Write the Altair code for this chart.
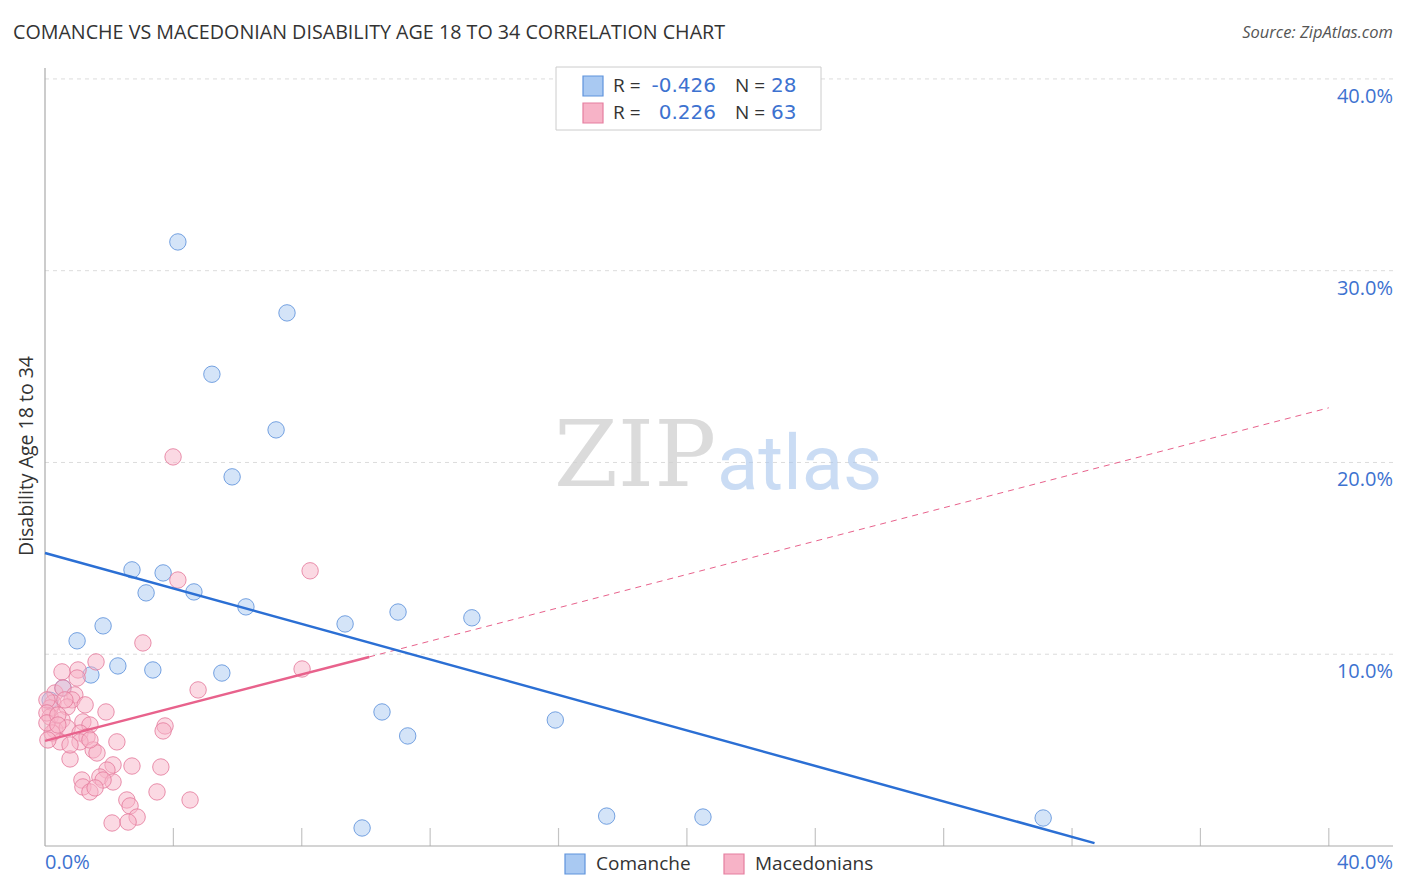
import altair as alt
import pandas as pd

# ---------------- data ----------------
comanche_x = [4.14, 7.54, 5.20, 7.20, 5.83, 2.71, 3.68, 3.15, 4.64, 6.26, 9.35, 11.0, 13.3,
              1.81, 1.00, 2.27, 3.36, 5.51, 1.43, 0.56, 10.5, 11.3, 15.9, 9.88, 17.5, 20.5,
              31.1, 0.16]
comanche_y = [31.5, 27.8, 24.6, 21.7, 19.25, 14.4, 14.24, 13.2, 13.25, 12.47, 11.58, 12.2, 11.9,
              11.48, 10.7, 9.39, 9.18, 9.02, 8.92, 8.24, 6.99, 5.74, 6.57, 0.94, 1.56, 1.51,
              1.46, 7.6]

maced_x = [8.26, 4.14, 3.99, 3.05, 0.53, 1.03, 1.59, 1.00, 8.01, 4.77, 0.31, 0.56, 0.93, 0.84,
           0.25, 0.69, 0.16, 1.90, 0.16, 0.53, 1.18, 1.40, 3.74, 3.68, 0.31, 0.69, 1.09, 1.31,
           0.47, 1.09, 2.24, 0.22, 0.78, 1.50, 1.62, 2.71, 3.61, 2.12, 1.93, 1.71, 1.15, 1.18,
           1.40, 2.12, 1.81, 3.49, 4.52, 2.55, 2.65, 2.87, 2.09, 2.59, 0.06, 0.06, 0.06, 0.09,
           1.56, 0.40, 0.62, 1.25, 0.40, 1.40, 0.78]
maced_y = [14.35, 13.87, 20.29, 10.59, 9.08, 9.18, 9.60, 8.76, 9.23, 8.14, 7.98, 8.24, 7.88, 7.62,
           7.46, 7.25, 7.20, 6.99, 6.73, 6.57, 6.47, 6.31, 6.26, 6.00, 6.05, 6.16, 5.89, 5.69,
           5.43, 5.43, 5.43, 5.89, 4.54, 5.01, 4.85, 4.17, 4.12, 4.23, 3.96, 3.60, 3.44, 3.08,
           2.82, 3.34, 3.44, 2.82, 2.40, 2.40, 2.09, 1.51, 1.20, 1.25, 7.62, 6.94, 6.42, 5.53,
           3.03, 6.83, 7.62, 7.36, 6.31, 5.53, 5.27]

# fitted trend lines (endpoints)
comanche_trend_x = [0.0, 32.7]
comanche_trend_y = [15.28, 0.15]
maced_solid_x = [0.0, 10.1]
maced_solid_y = [5.48, 9.86]
maced_dash_x = [10.1, 40.0]
maced_dash_y = [9.86, 22.85]

y_ticks = [10, 20, 30, 40]
y_tick_labels = ["10.0%", "20.0%", "30.0%", "40.0%"]
x_ticks = [4, 8, 12, 16, 20, 24, 28, 32, 36, 40]
x_end_labels = ["0.0%", "40.0%"]

series_names = ["Comanche", "Macedonians"]
r_values = ["-0.426", "0.226"]
n_values = ["28", "63"]

title_text = "COMANCHE VS MACEDONIAN DISABILITY AGE 18 TO 34 CORRELATION CHART"
source_text = "Source: ZipAtlas.com"
y_title = "Disability Age 18 to 34"

# ---------------- style ----------------
W, H = 1348, 778
XD = [0, 42]
YD = [0, 40.57]
BLUE_FILL, BLUE_STROKE, BLUE_LINE = "#a9c9f2", "#5f93dc", "#2b6fd4"
PINK_FILL, PINK_STROKE, PINK_LINE = "#f7b3c7", "#e57e9f", "#e8628c"
LABEL_BLUE = "#3d72d0"
FONT = "Open Sans"
NUMFONT = "DejaVu Sans"

xs = alt.Scale(domain=XD, nice=False, zero=False)
ys = alt.Scale(domain=YD, nice=False, zero=False)

pts = pd.DataFrame({
    "x": comanche_x + maced_x,
    "y": comanche_y + maced_y,
    "g": ["Comanche"] * len(comanche_x) + ["Macedonians"] * len(maced_x),
})

layers = []

# gridlines
grid = alt.Chart(pd.DataFrame({"y": y_ticks})).mark_rule(
    color="#dcdcdc", strokeDash=[4, 4], strokeWidth=1
).encode(y=alt.Y("y:Q", scale=ys, axis=None), x=alt.value(0), x2=alt.value(W))
layers.append(grid)

# bottom ticks
ticks = alt.Chart(pd.DataFrame({"x": x_ticks})).mark_rule(color="#c4c4c4", strokeWidth=1.2).encode(
    x=alt.X("x:Q", scale=xs, axis=None), y=alt.value(H - 18), y2=alt.value(H)
)
layers.append(ticks)

# axis lines
axl = alt.Chart(pd.DataFrame({"a": [0]})).mark_rule(color="#aaaaaa", strokeWidth=1.2).encode(
    x=alt.value(0), y=alt.value(0), y2=alt.value(H)
)
axb = alt.Chart(pd.DataFrame({"a": [0]})).mark_rule(color="#aaaaaa", strokeWidth=1.2).encode(
    x=alt.value(0), x2=alt.value(W), y=alt.value(H)
)
layers += [axl, axb]

# watermark
wm1 = alt.Chart(pd.DataFrame({"t": ["ZIP"]})).mark_text(
    font="DejaVu Serif", fontSize=92, color="#d0d0d0", opacity=0.75, align="center", baseline="middle"
).encode(text="t:N", x=alt.value(590), y=alt.value(390))
wm2 = alt.Chart(pd.DataFrame({"t": ["atlas"]})).mark_text(
    font="Roboto", fontSize=76, color="#a8c6ee", opacity=0.6, align="left", baseline="middle"
).encode(text="t:N", x=alt.value(672), y=alt.value(398))
layers += [wm1, wm2]

# points
scatter = alt.Chart(pts).mark_circle(size=270, strokeWidth=1, fillOpacity=0.5, strokeOpacity=0.85).encode(
    x=alt.X("x:Q", scale=xs, axis=None),
    y=alt.Y("y:Q", scale=ys, axis=None),
    fill=alt.Fill("g:N", scale=alt.Scale(domain=series_names, range=[BLUE_FILL, PINK_FILL]), legend=None),
    stroke=alt.Stroke("g:N", scale=alt.Scale(domain=series_names, range=[BLUE_STROKE, PINK_STROKE]), legend=None),
)
layers.append(scatter)

# trend lines
def line(xv, yv, color, width, dash=None):
    kw = dict(color=color, strokeWidth=width)
    if dash:
        kw["strokeDash"] = dash
    return alt.Chart(pd.DataFrame({"x": xv, "y": yv})).mark_line(**kw).encode(
        x=alt.X("x:Q", scale=xs, axis=None), y=alt.Y("y:Q", scale=ys, axis=None)
    )

layers.append(line(maced_dash_x, maced_dash_y, PINK_LINE, 1, [6, 5]))
layers.append(line(maced_solid_x, maced_solid_y, PINK_LINE, 2.5))
layers.append(line(comanche_trend_x, comanche_trend_y, BLUE_LINE, 2.5))

# right y labels
ylab = alt.Chart(pd.DataFrame({"y": y_ticks, "t": y_tick_labels})).mark_text(
    font=FONT, fontSize=20, color=LABEL_BLUE, align="right", baseline="middle", dy=18
).encode(y=alt.Y("y:Q", scale=ys, axis=None), text="t:N", x=alt.value(W))
layers.append(ylab)

# x end labels
xl0 = alt.Chart(pd.DataFrame({"t": [x_end_labels[0]]})).mark_text(
    font=FONT, fontSize=20, color=LABEL_BLUE, align="left", baseline="middle"
).encode(text="t:N", x=alt.value(0), y=alt.value(H + 17))
xl1 = alt.Chart(pd.DataFrame({"t": [x_end_labels[1]]})).mark_text(
    font=FONT, fontSize=20, color=LABEL_BLUE, align="right", baseline="middle"
).encode(text="t:N", x=alt.value(W), y=alt.value(H + 17))
layers += [xl0, xl1]

# title & source
ttl = alt.Chart(pd.DataFrame({"t": [title_text]})).mark_text(
    font=FONT, fontSize=19.7, color="#333333", align="left", baseline="middle"
).encode(text="t:N", x=alt.value(-32), y=alt.value(-35))
src = alt.Chart(pd.DataFrame({"t": [source_text]})).mark_text(
    font=FONT, fontSize=16.5, fontStyle="italic", color="#555555", align="right", baseline="middle"
).encode(text="t:N", x=alt.value(W), y=alt.value(-35))
ytt = alt.Chart(pd.DataFrame({"t": [y_title]})).mark_text(
    font=FONT, fontSize=19.5, color="#333333", align="center", baseline="middle", angle=270
).encode(text="t:N", x=alt.value(-18), y=alt.value(388))
layers += [ttl, src, ytt]

# top legend box
box = alt.Chart(pd.DataFrame({"a": [0]})).mark_rect(fill="white", stroke="#cccccc", strokeWidth=1).encode(
    x=alt.value(511), x2=alt.value(776), y=alt.value(-1), y2=alt.value(62)
)
layers.append(box)
row_y = [18, 45]
sq_fill = [BLUE_FILL, PINK_FILL]
sq_stroke = [BLUE_STROKE, PINK_STROKE]
for i in range(2):
    layers.append(alt.Chart(pd.DataFrame({"a": [0]})).mark_rect(
        fill=sq_fill[i], stroke=sq_stroke[i], strokeWidth=1.2).encode(
        x=alt.value(538), x2=alt.value(558), y=alt.value(row_y[i] - 10), y2=alt.value(row_y[i] + 10)))
    layers.append(alt.Chart(pd.DataFrame({"t": ["R ="]})).mark_text(
        font=FONT, fontSize=19, color="#333333", align="left", baseline="middle").encode(
        text="t:N", x=alt.value(568), y=alt.value(row_y[i])))
    layers.append(alt.Chart(pd.DataFrame({"t": [r_values[i]]})).mark_text(
        font=NUMFONT, fontSize=20, color=LABEL_BLUE, align="right", baseline="middle").encode(
        text="t:N", x=alt.value(671), y=alt.value(row_y[i])))
    layers.append(alt.Chart(pd.DataFrame({"t": ["N ="]})).mark_text(
        font=FONT, fontSize=19, color="#333333", align="left", baseline="middle").encode(
        text="t:N", x=alt.value(690), y=alt.value(row_y[i])))
    layers.append(alt.Chart(pd.DataFrame({"t": [n_values[i]]})).mark_text(
        font=NUMFONT, fontSize=20, color=LABEL_BLUE, align="left", baseline="middle").encode(
        text="t:N", x=alt.value(726), y=alt.value(row_y[i])))

# bottom legend
leg_sq_x = [520, 679]
leg_txt_x = [551, 710]
for i in range(2):
    layers.append(alt.Chart(pd.DataFrame({"a": [0]})).mark_rect(
        fill=sq_fill[i], stroke=sq_stroke[i], strokeWidth=1.2).encode(
        x=alt.value(leg_sq_x[i]), x2=alt.value(leg_sq_x[i] + 20), y=alt.value(786), y2=alt.value(806)))
    layers.append(alt.Chart(pd.DataFrame({"t": [series_names[i]]})).mark_text(
        font=FONT, fontSize=19, color="#333333", align="left", baseline="middle").encode(
        text="t:N", x=alt.value(leg_txt_x[i]), y=alt.value(796)))

chart = alt.layer(*layers).resolve_scale(fill="independent", stroke="independent").properties(
    width=W, height=H,
    autosize=alt.AutoSizeParams(type="none"),
    padding={"left": 37, "top": 60, "right": 5, "bottom": 38},
).configure_view(stroke=None)

chart.save("out.html", embed_options={"renderer": "svg", "actions": False})
